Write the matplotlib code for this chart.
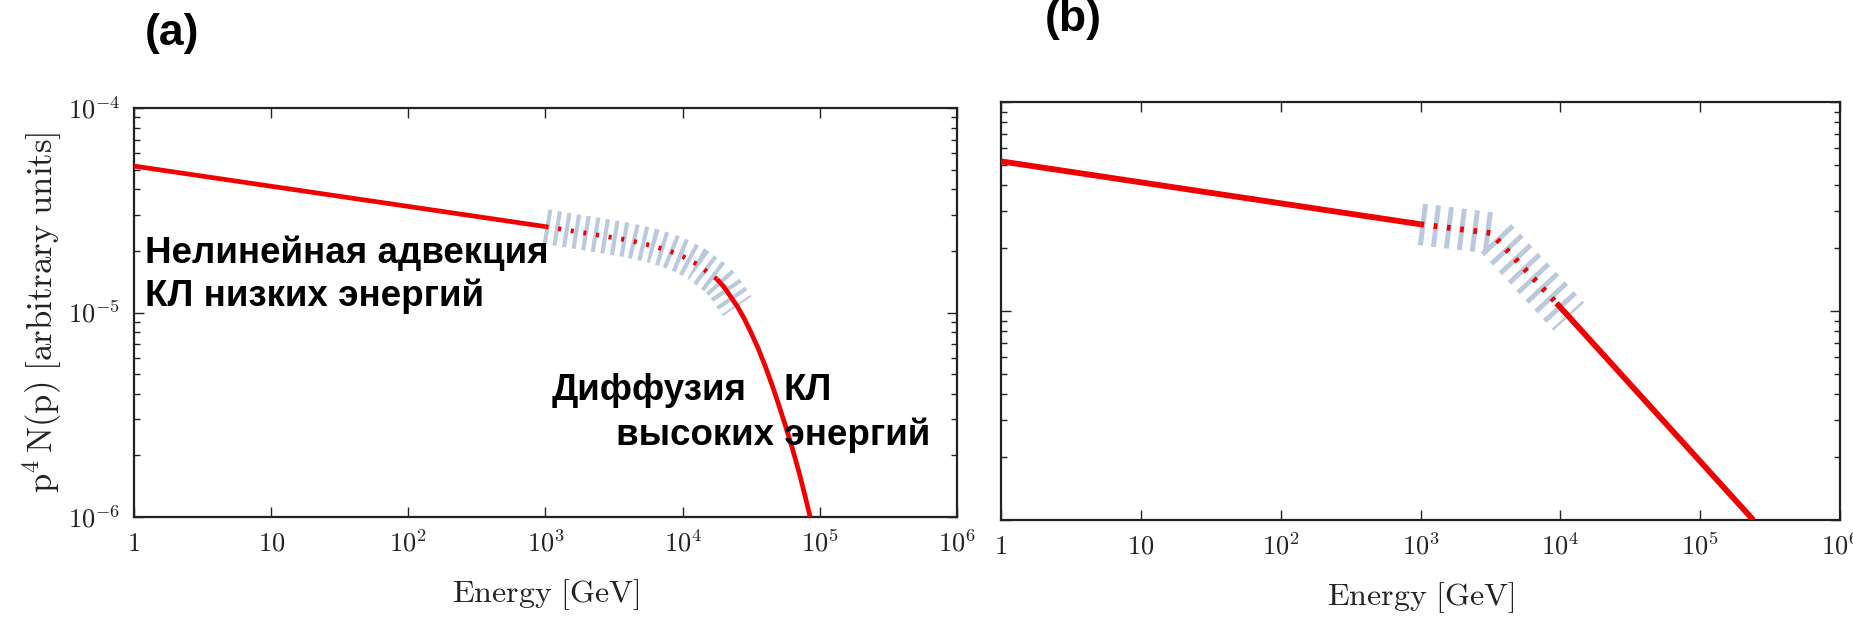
import numpy as np
import matplotlib
matplotlib.use("Agg")
import matplotlib.pyplot as plt
from matplotlib.ticker import LogLocator, NullLocator, NullFormatter

# Спектры КЛ: p^4 N(p) в произвольных единицах (x1e-5)
energy_a = [1, 1000, 2000, 4000, 6000, 8000, 10000, 12600, 17800, 20000, 25000,
            28000, 31600, 35500, 40000, 44700, 50000, 56200, 63000, 70800, 79400, 85000]
flux_a = [5.2, 2.63, 2.44, 2.26, 2.12, 2.00, 1.88, 1.73, 1.455, 1.334, 1.072,
          0.938, 0.794, 0.668, 0.546, 0.445, 0.356, 0.279, 0.217, 0.164, 0.121, 0.100]

energy_b = [1, 1000, 3200, 9400, 11500, 240000]
flux_b = [5.2, 2.6, 2.36, 1.09, 0.94, 0.10]

# участки: пунктир (переходная область) и полоса неопределённости
dotted_a = (1000, 17800)
band_a = (1000, 25000)
dotted_b = (1000, 9400)
band_b = (1000, 11500)

xticks = [1, 10, 1e2, 1e3, 1e4, 1e5, 1e6]
xticklabels = [r'$1$', r'$10$', r'$10^2$', r'$10^3$', r'$10^4$', r'$10^5$', r'$10^6$']
yticks = [1e-6, 1e-5, 1e-4]
yticklabels = [r'$10^{-6}$', r'$10^{-5}$', r'$10^{-4}$']

plt.rcParams['mathtext.fontset'] = 'cm'
plt.rcParams['lines.scale_dashes'] = False

W, H = 1853, 621
fig = plt.figure(figsize=(W / 100, H / 100), dpi=100)


def px_axes(l, t, r, b):
    return fig.add_axes([l / W, 1 - b / H, (r - l) / W, (b - t) / H])


def draw_spectrum(ax, energy, flux, dotted, band, lw, band_lw, band_dash, dot_dash):
    e = np.array(energy, dtype=float)
    f = np.array(flux, dtype=float) * 1e-5

    m_band = (e >= band[0]) & (e <= band[1])
    ax.plot(e[m_band], f[m_band], color='#a9bdd4', lw=band_lw, alpha=0.8,
            dashes=band_dash, solid_capstyle='butt', dash_capstyle='butt', zorder=1)

    m1 = e <= dotted[0]
    m2 = (e >= dotted[0]) & (e <= dotted[1])
    m3 = e >= dotted[1]
    ax.plot(e[m1], f[m1], color='#f00000', lw=lw, solid_capstyle='butt', zorder=3)
    ax.plot(e[m2], f[m2], color='#f00000', lw=lw, dashes=dot_dash,
            dash_capstyle='butt', zorder=3)
    ax.plot(e[m3], f[m3], color='#f00000', lw=lw, solid_capstyle='butt', zorder=3)


def style_axes(ax, show_ylabels):
    ax.set_xscale('log')
    ax.set_yscale('log')
    ax.set_xlim(1, 1e6)
    ax.set_ylim(1e-6, 1e-4)
    ax.set_xticks(xticks, labels=xticklabels)
    ax.xaxis.set_minor_locator(NullLocator())
    ax.yaxis.set_minor_locator(LogLocator(base=10, subs=np.arange(2, 10)))
    ax.yaxis.set_minor_formatter(NullFormatter())
    if show_ylabels:
        ax.set_yticks(yticks, labels=yticklabels)
    else:
        ax.set_yticks(yticks, labels=['', '', ''])
    ax.tick_params(which='both', direction='in', top=True, right=True,
                   width=1.0, colors='#222222', labelcolor='#222222')
    ax.tick_params(which='major', length=7, labelsize=19, pad=10)
    ax.tick_params(which='minor', length=4)
    for s in ax.spines.values():
        s.set_linewidth(1.6)
        s.set_color('#222222')
    ax.set_xlabel(r'$\mathrm{Energy\ [GeV]}$', fontsize=23, color='#222222', labelpad=14)


ax_a = px_axes(134, 108, 957, 517)
draw_spectrum(ax_a, energy_a, flux_a, dotted_a, band_a, lw=3.4, band_lw=25,
              band_dash=(3, 4), dot_dash=(2.2, 7))
style_axes(ax_a, True)
ax_a.set_ylabel(r'$\mathrm{p}^4\,\mathrm{N(p)\ [arbitrary\ units]}$', fontsize=25,
                color='#222222', va='center')
ax_a.yaxis.set_label_coords(-0.112, 0.5)

ax_b = px_axes(1001, 102, 1840, 520)
draw_spectrum(ax_b, energy_b, flux_b, dotted_b, band_b, lw=4.2, band_lw=30,
              band_dash=(3.6, 5.8), dot_dash=(2.6, 7))
style_axes(ax_b, False)

# подписи панелей
fig.text(145 / W, 1 - 34 / H, '(a)', fontsize=32, fontweight='bold',
         family='Liberation Sans', va='center', ha='left')
fig.text(1045 / W, 1 - 19 / H, '(b)', fontsize=32, fontweight='bold',
         family='Liberation Sans', va='center', ha='left')

# пояснения к режимам переноса
txt = dict(fontsize=26.5, fontweight='bold', family='Liberation Sans',
           va='baseline', ha='left', zorder=5)
fig.text(145 / W, 1 - 263 / H, 'Нелинейная адвекция', **txt)
fig.text(145 / W, 1 - 306 / H, 'КЛ низких энергий', **txt)
fig.text(552 / W, 1 - 400 / H, 'Диффузия', **txt)
fig.text(783 / W, 1 - 400 / H, 'КЛ', **txt)
fig.text(616 / W, 1 - 445 / H, 'высоких энергий', **txt)

fig.savefig('out.png', dpi=100, facecolor='white')
